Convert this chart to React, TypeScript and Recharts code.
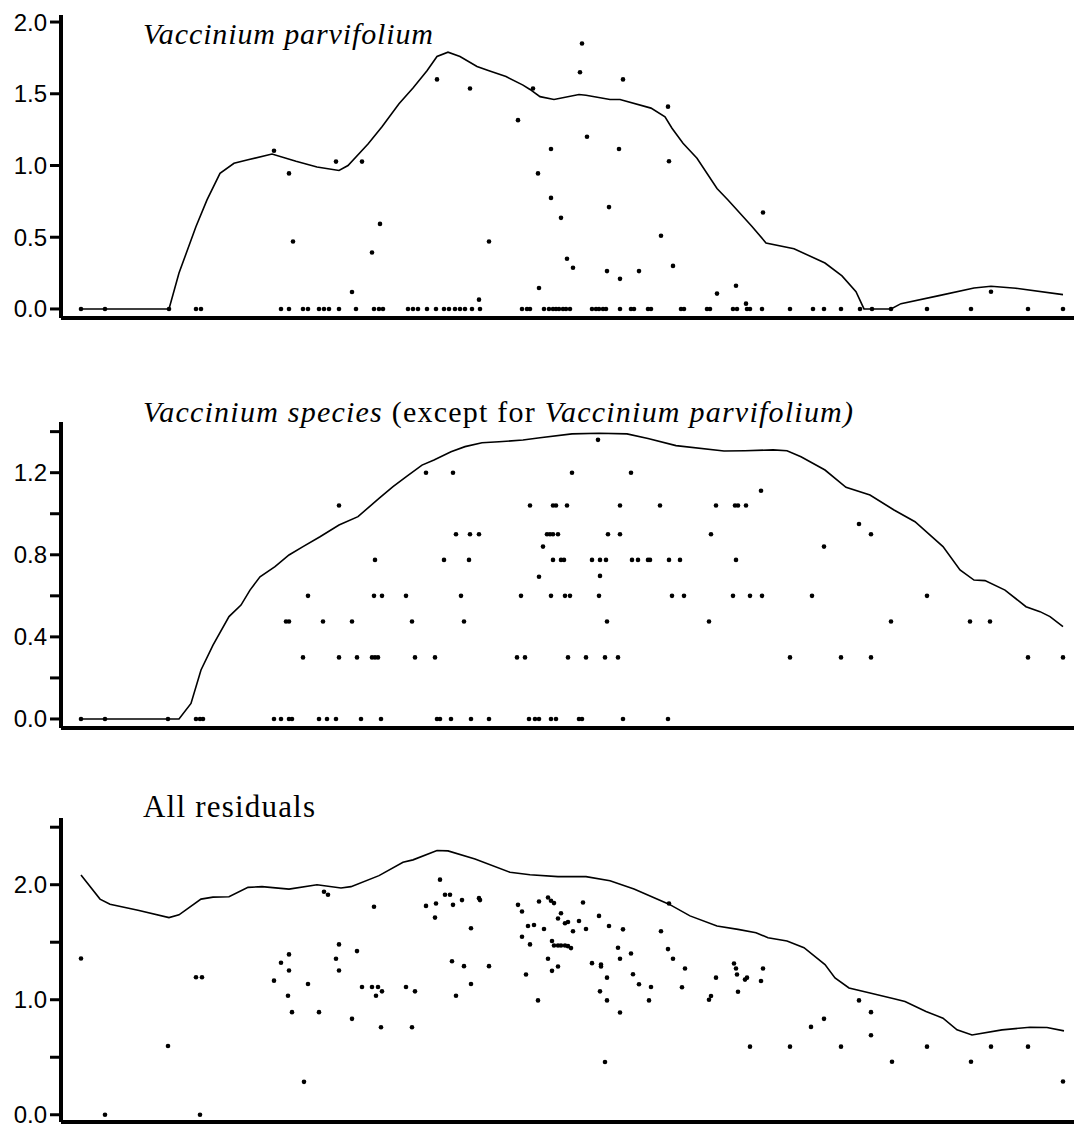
import React from 'react'
import { ComposedChart, XAxis, YAxis, Line, Scatter } from 'recharts'

// x = position along the gradient (arbitrary units, no scale printed), y = response value

// --- Vaccinium parvifolium ---
const P1_LINE: [number, number][] = [
  [20, 0], [108, 0], [118, 0.25], [135, 0.575], [146, 0.76], [159, 0.945], [173, 1.015], [187, 1.04],
  [211, 1.08], [235, 1.03], [256, 0.99], [278, 0.965], [287, 1.0], [307, 1.15], [321, 1.27], [338, 1.43],
  [352, 1.54], [366, 1.66], [376, 1.76], [387, 1.79], [399, 1.76], [416, 1.69], [428, 1.66], [445, 1.62],
  [462, 1.56], [469, 1.53], [479, 1.48], [493, 1.46], [518, 1.495], [525, 1.49], [549, 1.46], [559, 1.46],
  [590, 1.4], [604, 1.34], [611, 1.26], [622, 1.155], [636, 1.05], [656, 0.84], [667, 0.76], [691, 0.575],
  [705, 0.46], [733, 0.42], [764, 0.32], [781, 0.23], [795, 0.12], [803, 0], [830, 0], [840, 0.037],
  [878, 0.093], [913, 0.146], [930, 0.158], [955, 0.144], [1002, 0.1],
]
const P1_ZERO_X = [
  20, 44, 108, 135, 140, 220, 228, 242, 247, 258, 263, 268, 278, 295, 313, 318, 322, 347, 352, 357,
  366, 375, 383, 388, 394, 399, 404, 411, 419, 461, 466, 469, 483, 488, 492, 495, 498, 502, 505, 509,
  531, 535, 538, 542, 545, 559, 570, 573, 587, 590, 620, 623, 646, 649, 672, 676, 686, 689, 701, 729,
  752, 763, 780, 799, 811, 830, 866, 910, 967, 1002,
]
const P1_POINTS: [number, number][] = [
  [213, 1.103], [228, 0.945], [232, 0.47], [275, 1.027], [291, 0.118], [301, 1.027], [311, 0.394],
  [319, 0.593], [376, 1.6], [409, 1.537], [418, 0.065], [428, 0.47], [457, 1.316], [472, 1.537],
  [477, 0.945], [478, 0.146], [490, 1.115], [490, 0.774], [500, 0.635], [506, 0.35], [512, 0.287],
  [519, 1.65], [521, 1.85], [526, 1.2], [546, 0.264], [548, 0.71], [558, 1.115], [559, 0.21],
  [562, 1.6], [578, 0.264], [600, 0.51], [607, 1.41], [608, 1.03], [612, 0.3], [656, 0.107],
  [675, 0.162], [685, 0.037], [702, 0.672], [930, 0.12],
]

// --- Vaccinium species (except V. parvifolium) ---
const P2_LINE: [number, number][] = [
  [20, 0], [118, 0], [130, 0.076], [140, 0.239], [152, 0.36], [168, 0.499], [180, 0.555], [189, 0.628],
  [199, 0.693], [214, 0.742], [228, 0.799], [242, 0.84], [259, 0.888], [278, 0.945], [297, 0.986],
  [318, 1.075], [332, 1.132], [345, 1.18], [361, 1.237], [373, 1.262], [390, 1.302], [404, 1.327],
  [421, 1.346], [438, 1.351], [462, 1.359], [479, 1.37], [511, 1.389], [538, 1.392], [566, 1.389],
  [587, 1.367], [615, 1.332], [663, 1.306], [684, 1.307], [712, 1.311], [726, 1.307], [740, 1.278],
  [764, 1.213], [785, 1.129], [809, 1.091], [833, 1.018], [854, 0.961], [882, 0.84], [899, 0.726],
  [913, 0.677], [924, 0.674], [944, 0.628], [965, 0.547], [979, 0.523], [989, 0.499], [1002, 0.45],
]
const P2_ROW_000 = [20, 44, 107, 135, 139, 142, 213, 220, 228, 231, 258, 266, 275, 300, 320, 376, 379, 390, 410, 428, 468, 474, 478, 490, 495, 518, 521, 562, 607]
const P2_ROW_030 = [242, 278, 296, 311, 314, 317, 354, 374, 456, 464, 507, 525, 544, 557, 729, 780, 810, 967, 1002]
const P2_ROW_048 = [225, 228, 262, 291, 351, 403, 546, 648, 830, 909, 929]
const P2_ROW_060 = [247, 313, 321, 345, 400, 460, 490, 504, 509, 538, 611, 623, 672, 689, 701, 751, 866]
const P2_ROW_078 = [314, 383, 408, 492, 500, 503, 531, 539, 545, 571, 577, 587, 589, 608, 619, 675]
const P2_ROW_090 = [395, 409, 418, 486, 489, 492, 497, 547, 559, 650, 810]
const P2_ROW_104 = [278, 469, 492, 495, 506, 559, 599, 655, 674, 677, 685]
const P2_ROW_120 = [365, 392, 511, 570]
const P2_OTHER: [number, number][] = [
  [537, 1.36], [478, 0.693], [482, 0.84], [539, 0.697], [798, 0.95], [763, 0.84], [700, 1.112],
]

// --- All residuals ---
const P3_LINE: [number, number][] = [
  [20, 2.085], [39, 1.875], [49, 1.83], [77, 1.778], [108, 1.714], [118, 1.738], [140, 1.875],
  [152, 1.892], [168, 1.895], [187, 1.977], [201, 1.983], [228, 1.962], [256, 2.0], [280, 1.971],
  [290, 1.983], [318, 2.079], [342, 2.195], [352, 2.216], [376, 2.297], [387, 2.294], [414, 2.224],
  [449, 2.108], [469, 2.087], [497, 2.07], [525, 2.07], [549, 2.035], [573, 1.962], [608, 1.831],
  [629, 1.729], [656, 1.641], [677, 1.612], [695, 1.583], [707, 1.539], [726, 1.51], [743, 1.452],
  [764, 1.306], [774, 1.19], [788, 1.102], [809, 1.058], [833, 1.009], [844, 0.985], [865, 0.898],
  [882, 0.84], [896, 0.738], [911, 0.694], [941, 0.738], [969, 0.761], [986, 0.758], [1003, 0.729],
]
const P3_POINTS: [number, number][] = [
  [20, 1.359], [44, 0], [107, 0.598], [135, 1.195], [141, 1.195], [139, 0], [213, 1.166], [220, 1.321],
  [228, 1.394], [228, 1.254], [227, 1.035], [231, 0.892], [243, 0.286], [247, 1.137], [258, 0.892],
  [263, 1.939], [267, 1.913], [275, 1.356], [278, 1.481], [278, 1.254], [291, 0.834], [296, 1.423],
  [301, 1.111], [311, 1.111], [313, 1.808], [315, 1.035], [317, 1.111], [320, 0.761], [321, 1.073],
  [345, 1.111], [351, 0.761], [354, 1.073], [365, 1.816], [374, 1.714], [375, 1.837], [379, 2.044],
  [384, 1.913], [389, 1.913], [392, 1.825], [391, 1.335], [395, 1.035], [401, 1.866], [403, 1.292],
  [410, 1.621], [410, 1.137], [418, 1.883], [419, 1.866], [428, 1.292], [457, 1.825], [461, 1.767],
  [461, 1.548], [465, 1.219], [467, 1.641], [469, 1.481], [473, 1.65], [478, 1.854], [477, 0.994],
  [483, 1.615], [487, 1.889], [490, 1.86], [493, 1.84], [487, 1.356], [491, 1.51], [491, 1.251],
  [493, 1.472], [497, 1.472], [500, 1.472], [504, 1.472], [507, 1.466], [510, 1.449], [497, 1.706],
  [500, 1.752], [497, 1.289], [504, 1.665], [507, 1.676], [512, 1.595], [518, 1.685], [522, 1.845],
  [525, 1.615], [531, 1.318], [538, 1.729], [540, 1.306], [540, 1.289], [539, 1.073], [544, 0.458],
  [546, 1.192], [546, 0.994], [548, 1.641], [557, 1.452], [559, 1.356], [559, 0.889], [562, 1.612],
  [570, 1.402], [572, 1.222], [578, 1.134], [588, 0.994], [590, 1.111], [600, 1.595], [607, 1.44],
  [608, 1.837], [612, 1.356], [621, 1.108], [624, 1.271], [648, 1.0], [650, 1.032], [655, 1.192],
  [673, 1.315], [675, 1.271], [676, 1.219], [677, 1.07], [684, 1.175], [686, 1.192], [689, 0.592],
  [700, 1.163], [702, 1.271], [729, 0.592], [750, 0.764], [763, 0.834], [780, 0.592], [798, 0.994],
  [810, 0.892], [810, 0.691], [831, 0.461], [866, 0.592], [910, 0.461], [930, 0.592], [967, 0.592],
  [1002, 0.289],
]

const toXY = (pairs: [number, number][]) => pairs.map(([x, y]) => ({ x, y }))
const rowXY = (xs: number[], y: number) => xs.map((x) => ({ x, y }))

const Dot = (props: any) => <circle cx={props.cx} cy={props.cy} r={2.3} fill="#000" />

interface PanelProps {
  top: number
  plotHeight: number
  domain: [number, number]
  ticks: number[]
  labeled: number[]
  line: { x: number; y: number }[]
  points: { x: number; y: number }[]
}

function Panel({ top, plotHeight, domain, ticks, labeled, line, points }: PanelProps) {
  const fmt = (v: number) => (labeled.some((l) => Math.abs(l - v) < 1e-6) ? v.toFixed(1) : '')
  return (
    <div style={{ position: 'absolute', left: 0, top }}>
      <ComposedChart width={1074} height={plotHeight + 20} margin={{ top: 15, right: 0, bottom: 0, left: 0 }}>
        <XAxis
          type="number"
          dataKey="x"
          domain={[0, 1013]}
          allowDataOverflow
          ticks={[]}
          tick={false}
          tickLine={false}
          height={5}
          axisLine={{ stroke: '#000', strokeWidth: 4 }}
        />
        <YAxis
          type="number"
          dataKey="y"
          domain={domain}
          allowDataOverflow
          ticks={ticks}
          interval={0}
          tickFormatter={fmt}
          width={61}
          tickSize={11}
          tickMargin={3}
          axisLine={{ stroke: '#000', strokeWidth: 4 }}
          tickLine={{ stroke: '#000', strokeWidth: 3 }}
          tick={{ fill: '#000', fontSize: 24, fontFamily: 'Liberation Sans, Arial, sans-serif' }}
        />
        <Line
          data={line}
          dataKey="y"
          type="linear"
          stroke="#000"
          strokeWidth={1.6}
          dot={false}
          activeDot={false}
          isAnimationActive={false}
        />
        <Scatter data={points} dataKey="y" fill="#000" shape={Dot} isAnimationActive={false} />
      </ComposedChart>
    </div>
  )
}

const serif = 'Liberation Serif, Times New Roman, serif'

export default function App() {
  const p2Points = [
    ...rowXY(P2_ROW_000, 0),
    ...rowXY(P2_ROW_030, 0.3),
    ...rowXY(P2_ROW_048, 0.475),
    ...rowXY(P2_ROW_060, 0.6),
    ...rowXY(P2_ROW_078, 0.775),
    ...rowXY(P2_ROW_090, 0.9),
    ...rowXY(P2_ROW_104, 1.04),
    ...rowXY(P2_ROW_120, 1.2),
    ...toXY(P2_OTHER),
  ]

  return (
    <div style={{ position: 'absolute', left: 0, top: 0, width: 1074, height: 1131, background: '#fff', overflow: 'hidden' }}>
      <Panel
        top={0}
        plotHeight={303}
        domain={[-0.063, 2.049]}
        ticks={[0, 0.5, 1, 1.5, 2]}
        labeled={[0, 0.5, 1, 1.5, 2]}
        line={toXY(P1_LINE)}
        points={[...rowXY(P1_ZERO_X, 0), ...toXY(P1_POINTS)]}
      />
      <Panel
        top={407}
        plotHeight={306}
        domain={[-0.044, 1.447]}
        ticks={[0, 0.2, 0.4, 0.6, 0.8, 1.0, 1.2, 1.4]}
        labeled={[0, 0.4, 0.8, 1.2]}
        line={toXY(P2_LINE)}
        points={p2Points}
      />
      <Panel
        top={803}
        plotHeight={304}
        domain={[-0.063, 2.58]}
        ticks={[0, 0.5, 1, 1.5, 2, 2.5]}
        labeled={[0, 1, 2]}
        line={toXY(P3_LINE)}
        points={toXY(P3_POINTS)}
      />

      {/* panel titles */}
      <svg width={1074} height={1131} style={{ position: 'absolute', left: 0, top: 0, pointerEvents: 'none' }}>
        <text x={143} y={44} fontFamily={serif} fontSize={30} fontStyle="italic" fill="#000" textLength={290}>
          Vaccinium parvifolium
        </text>
        <text x={143} y={422} fontFamily={serif} fontSize={30} fill="#000" textLength={710}>
          <tspan fontStyle="italic">Vaccinium species</tspan>
          <tspan> (except for </tspan>
          <tspan fontStyle="italic">Vaccinium parvifolium)</tspan>
        </text>
        <text x={143} y={817} fontFamily={serif} fontSize={31} fill="#000" textLength={172}>
          All residuals
        </text>
      </svg>
    </div>
  )
}
